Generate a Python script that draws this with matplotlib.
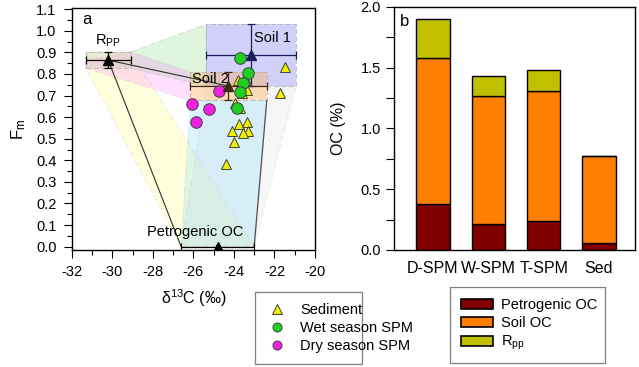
import matplotlib
matplotlib.use("Agg")
import matplotlib.pyplot as plt
from matplotlib.patches import Polygon, Rectangle, Patch
from matplotlib.lines import Line2D
from matplotlib.ticker import MultipleLocator, FormatStrFormatter

plt.rcParams['font.family'] = ['Liberation Sans', 'DejaVu Sans']
plt.rcParams['mathtext.default'] = 'regular'
plt.rcParams['axes.unicode_minus'] = False

# ---------------- data: panel a ----------------
sed_d13c = [-21.48, -21.73, -23.78, -23.40, -23.34, -23.62, -23.95, -23.70,
            -23.73, -23.34, -24.08, -23.29, -23.54, -23.99, -24.39]
sed_fm = [0.833, 0.713, 0.771, 0.771, 0.725, 0.710, 0.667, 0.640,
          0.566, 0.576, 0.537, 0.537, 0.528, 0.486, 0.381]

wet_d13c = [-23.70, -23.29, -23.57, -23.70, -23.83]
wet_fm = [0.875, 0.805, 0.756, 0.717, 0.640]

dry_d13c = [-24.74, -26.08, -25.21, -25.88]
dry_fm = [0.722, 0.662, 0.636, 0.578]

em_names = ['Rpp', 'Soil1', 'Soil2', 'Petro']
em_d13c = [-30.2, -23.15, -24.27, -24.8]
em_fm = [0.864, 0.887, 0.744, 0.0]
em_d13c_err = [1.1, 2.21, 1.89, 1.8]
em_fm_err = [0.038, 0.143, 0.067, 0.0]

# ---------------- data: panel b ----------------
bar_cats = ['D-SPM', 'W-SPM', 'T-SPM', 'Sed']
petro_oc = [0.38, 0.215, 0.24, 0.055]
soil_oc = [1.20, 1.05, 1.065, 0.715]
rpp_oc = [0.32, 0.165, 0.18, 0.0]

fig = plt.figure(figsize=(6.39, 3.67), dpi=100)
ax = fig.add_axes([0.1122, 0.319, 0.3808, 0.659])
bx = fig.add_axes([0.6166, 0.319, 0.377, 0.662])

box = {}
for n, x, y, ex, ey in zip(em_names, em_d13c, em_fm, em_d13c_err, em_fm_err):
    box[n] = dict(L=x - ex, R=x + ex, B=y - ey, T=y + ey, x=x, y=y)
rp, s1, s2, pe = box['Rpp'], box['Soil1'], box['Soil2'], box['Petro']

edge_kw = dict(edgecolor='#b4b4b4', linestyle=(0, (6, 3)), linewidth=0.8)
bands = [
    ([(rp['L'], rp['T']), (rp['R'], rp['T']), (pe['R'], pe['B']), (pe['L'], pe['B']), (rp['L'], rp['B'])], '#ffff70', 0.24),
    ([(s1['L'], s1['B']), (s1['R'], s1['B']), (pe['R'], pe['B']), (pe['L'], pe['B'])], '#d8d8d8', 0.22),
    ([(s2['L'], s2['B']), (s2['R'], s2['B']), (pe['R'], pe['B']), (pe['L'], pe['B'])], '#80d8ff', 0.26),
    ([(rp['R'], rp['T']), (s1['L'], s1['T']), (s1['L'], s1['B']), (rp['R'], rp['B'])], '#a0e6a0', 0.35),
    ([(rp['L'], rp['y']), (rp['R'], rp['T']), (s2['L'], s2['T']), (s2['L'], s2['B']), (rp['L'], rp['B'])], '#ff80ff', 0.25),
]
for pts, c, a in bands:
    ax.add_patch(Polygon(pts, closed=True, facecolor=c, alpha=a, zorder=1, **edge_kw))

for b, c, a in [(rp, '#c8c8c8', 0.4), (s1, '#8a8af0', 0.4), (s2, '#ffb060', 0.4)]:
    ax.add_patch(Rectangle((b['L'], b['B']), b['R'] - b['L'], b['T'] - b['B'],
                           facecolor=c, alpha=a, edgecolor='none', zorder=2))
    ax.add_patch(Rectangle((b['L'], b['B']), b['R'] - b['L'], b['T'] - b['B'],
                           facecolor='none', edgecolor='#b4b4b4', linestyle=(0, (6, 3)),
                           linewidth=0.6, zorder=2))

ax.plot([rp['x'], s2['x']], [rp['y'], s2['y']], color='#303030', lw=0.8, zorder=3)
ax.plot([rp['x'], pe['L']], [rp['y'], pe['B']], color='#303030', lw=0.8, zorder=3)
ax.plot([s2['R'], pe['R']], [s2['B'], pe['B']], color='#505050', lw=0.9, zorder=3)

em_colors = ['black', '#1c1c5c', '#3a2a18', 'black']
for n, x, y, ex, ey, c in zip(em_names, em_d13c, em_fm, em_d13c_err, em_fm_err, em_colors):
    ax.errorbar([x], [y], xerr=[ex], yerr=[ey] if ey > 0 else None, fmt='none',
                ecolor=c, elinewidth=0.9, capsize=3, capthick=0.9, zorder=4)
    ax.plot([x], [y], marker='^', color=c, markersize=6.5, linestyle='none', zorder=6)

ax.plot(sed_d13c, sed_fm, marker='^', linestyle='none', markersize=7.5,
        markerfacecolor='#f0f000', markeredgecolor='#404040', markeredgewidth=0.7, zorder=5)
ax.plot(wet_d13c, wet_fm, marker='o', linestyle='none', markersize=8.3,
        markerfacecolor='#20d020', markeredgecolor='#404040', markeredgewidth=0.7, zorder=5)
ax.plot(dry_d13c, dry_fm, marker='o', linestyle='none', markersize=8.3,
        markerfacecolor='#f020e0', markeredgecolor='#404040', markeredgewidth=0.7, zorder=5)

ax.text(-30.2, 0.955, 'R$_{PP}$', ha='center', va='center', fontsize=10.5, zorder=7)
ax.text(-22.1, 0.965, 'Soil 1', ha='center', va='center', fontsize=10.5, zorder=7)
ax.text(-26.05, 0.776, 'Soil 2', ha='left', va='center', fontsize=10.5, zorder=7)
ax.text(-25.9, 0.069, 'Petrogenic OC', ha='center', va='center', fontsize=10.5, zorder=7)
ax.text(-31.5, 1.05, 'a', ha='left', va='center', fontsize=12, zorder=7)

ax.set_xlim(-32, -20)
ax.set_ylim(-0.015, 1.105)
ax.xaxis.set_major_locator(MultipleLocator(2))
ax.xaxis.set_minor_locator(MultipleLocator(1))
ax.yaxis.set_major_locator(MultipleLocator(0.1))
ax.yaxis.set_minor_locator(MultipleLocator(0.05))
ax.yaxis.set_major_formatter(FormatStrFormatter('%.1f'))
ax.tick_params(which='major', direction='out', length=6, width=0.8, labelsize=10.5, pad=5)
ax.tick_params(which='minor', direction='out', length=3.5, width=0.8)
ax.set_xlabel('δ$^{13}$C (‰)', fontsize=11.5, labelpad=6)
ax.set_ylabel('F$_m$', fontsize=12, labelpad=6)
for s in ax.spines.values():
    s.set_linewidth(1.0)

# ---------------- panel b ----------------
xs = list(range(len(bar_cats)))
bot2 = [p + s for p, s in zip(petro_oc, soil_oc)]
bw = 0.6
bx.bar(xs, petro_oc, width=bw, color='#800000', edgecolor='black', linewidth=1)
bx.bar(xs, soil_oc, width=bw, bottom=petro_oc, color='#ff8000', edgecolor='black', linewidth=1)
bx.bar(xs, rpp_oc, width=bw, bottom=bot2, color='#c0c000', edgecolor='black', linewidth=1)
bx.set_xlim(-0.705, 3.65)
bx.set_ylim(0, 2.0)
bx.set_xticks(xs)
bx.set_xticklabels(bar_cats, fontsize=11.5)
bx.tick_params(axis='x', length=0, pad=8)
bx.yaxis.set_major_locator(MultipleLocator(0.5))
bx.yaxis.set_minor_locator(MultipleLocator(0.25))
bx.yaxis.set_major_formatter(FormatStrFormatter('%.1f'))
bx.tick_params(axis='y', which='major', direction='out', length=6, width=0.8, labelsize=10.5)
bx.tick_params(axis='y', which='minor', direction='out', length=6, width=0.8)
bx.set_ylabel('OC (%)', fontsize=11.5, labelpad=10)
bx.text(-0.6, 1.88, 'b', ha='left', va='center', fontsize=12)
for s in bx.spines.values():
    s.set_linewidth(1.0)

# ---------------- legends ----------------
def mk(m, fc):
    return Line2D([], [], marker=m, linestyle='none', markersize=6.5, markerfacecolor=fc,
                  markeredgecolor='#404040', markeredgewidth=0.7)

h_a = [mk('^', '#f0f000'), mk('o', '#20d020'), mk('o', '#f020e0')]
leg_a = fig.legend(h_a, ['Sediment', 'Wet season SPM', 'Dry season SPM'],
                   loc='upper left', bbox_to_anchor=(0.399, 0.003, 0.168, 0.2), mode='expand',
                   fontsize=10.5, frameon=True, fancybox=False, edgecolor='#606060',
                   handlelength=1.6, handletextpad=0.8, labelspacing=0.3, borderpad=0.7,
                   borderaxespad=0)
leg_a.get_frame().set_linewidth(0.9)

h_b = [Patch(facecolor='#800000', edgecolor='black', linewidth=1.2),
       Patch(facecolor='#ff8000', edgecolor='black', linewidth=1.2),
       Patch(facecolor='#c0c000', edgecolor='black', linewidth=1.2)]
leg_b = fig.legend(h_b, ['Petrogenic OC', 'Soil OC', 'R$_{pp}$'],
                   loc='upper left', bbox_to_anchor=(0.704, 0.011, 0.243, 0.207), mode='expand',
                   fontsize=10.5, frameon=True, fancybox=False, edgecolor='#606060',
                   handlelength=2.2, handleheight=0.75, handletextpad=0.55, labelspacing=0.28,
                   borderpad=0.75, borderaxespad=0)
leg_b.get_frame().set_linewidth(0.9)

fig.savefig('out.png', dpi=100)
